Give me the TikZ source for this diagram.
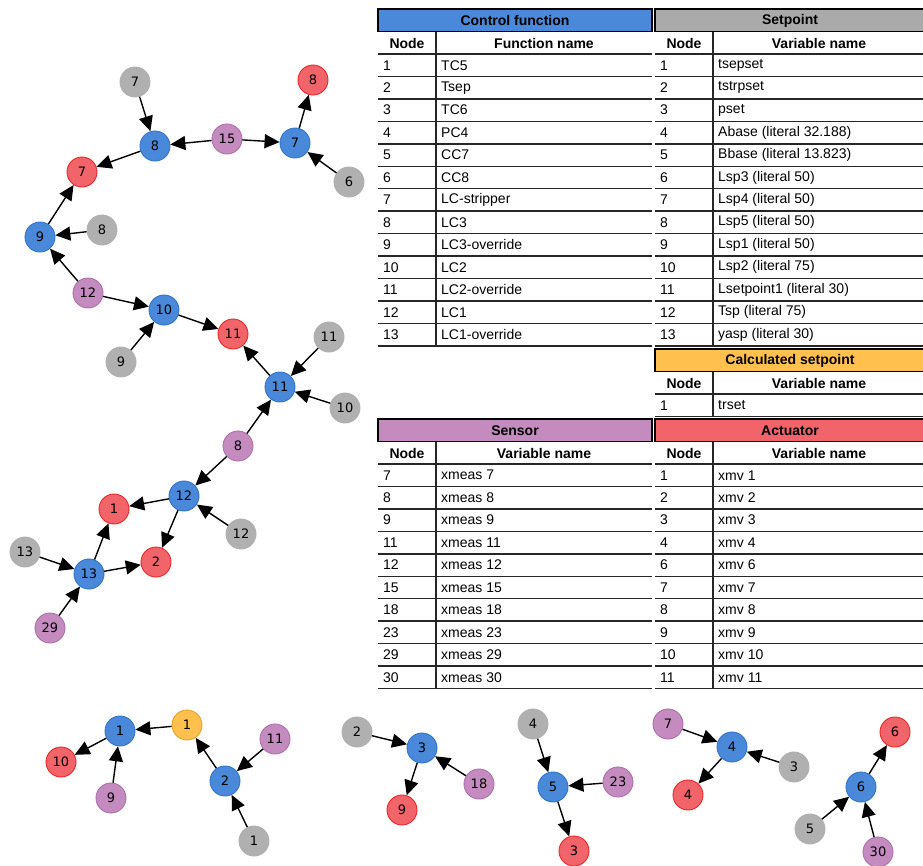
\documentclass[tikz,border=0pt]{standalone}
\usepackage{fontspec}
\setmainfont{Liberation Sans}
\newfontfamily\graphfont{DejaVu Sans}
\usetikzlibrary{positioning, arrows.meta}

\definecolor{cfblue}{RGB}{74,137,218}
\definecolor{cfline}{RGB}{50,115,200}
\definecolor{spgray}{RGB}{176,176,176}
\definecolor{snpurple}{RGB}{196,139,191}
\definecolor{snline}{RGB}{176,110,172}
\definecolor{acred}{RGB}{240,100,106}
\definecolor{acline}{RGB}{232,40,40}
\definecolor{csyellow}{RGB}{255,192,77}
\definecolor{csline}{RGB}{228,164,40}
\definecolor{sphead}{RGB}{170,170,170}

% #1 left, #2 right, #3 top, #4 colour, #5 title, #6 column name, #7 rows, #8 number of rows
\newcommand{\vartable}[8]{%
  \draw[tabhead, fill=#4] (#1,#3) rectangle (#2,#3+22.5);
  \node[tabbold] at ({(#1+#2)/2},#3+11.5) {#5};
  \node[tabbold] at (#1+29,#3+34) {Node};
  \node[tabbold] at ({(#1+58+#2)/2},#3+34) {#6};
  \draw[rowline] (#1,#3+45) -- (#2,#3+45);
  \foreach \nd/\vn [count=\i] in {#7} {
    \node[tabcell] at (#1+5,{#3+45+(\i-0.5)*22.45}) {\nd};
    \node[tabcell] at (#1+63,{#3+45+(\i-0.5)*22.45}) {\vn};
    \draw[rowline] (#1,{#3+45+\i*22.45}) -- (#2,{#3+45+\i*22.45});
  }
  \draw[rowline] (#1+58,#3+22.5) -- (#1+58,{#3+45+#8*22.45});
}

\begin{document}
\begin{tikzpicture}[x=1pt, y=-1pt, font=\fontsize{14}{16}\selectfont,
  vert/.style={circle, minimum size=30pt, inner sep=0pt, line width=0.9pt, font=\graphfont\fontsize{13}{13}\selectfont},
  cf/.style={vert, fill=cfblue, draw=cfline},
  sp/.style={vert, fill=spgray, draw=spgray},
  sn/.style={vert, fill=snpurple, draw=snline},
  ac/.style={vert, fill=acred, draw=acline},
  cs/.style={vert, fill=csyellow, draw=csline},
  link/.style={-{Triangle[length=15pt, width=14pt]}, line width=1.4pt},
  tabhead/.style={draw=black, line width=1.5pt},
  tabbold/.style={font=\fontsize{14}{16}\selectfont\bfseries},
  tabcell/.style={anchor=west, inner sep=0pt},
  rowline/.style={draw=black!85, line width=1.5pt}]
  \useasboundingbox (0,0) rectangle (923,865);

  \vartable{378}{652}{9}{cfblue}{Control function}{Function name}
    {1/TC5, 2/Tsep, 3/TC6, 4/PC4, 5/CC7, 6/CC8, 7/LC-stripper, 8/LC3, 9/LC3-override,
     10/LC2, 11/LC2-override, 12/LC1, 13/LC1-override}{13}
  \vartable{655}{925}{9}{sphead}{Setpoint}{Variable name}
    {1/tsepset, 2/tstrpset, 3/pset, 4/Abase (literal 32.188), 5/Bbase (literal 13.823),
     6/Lsp3 (literal 50), 7/Lsp4 (literal 50), 8/Lsp5 (literal 50), 9/Lsp1 (literal 50),
     10/Lsp2 (literal 75), 11/Lsetpoint1 (literal 30), 12/Tsp (literal 75), 13/yasp (literal 30)}{13}
  \vartable{655}{925}{349}{csyellow}{Calculated setpoint}{Variable name}
    {1/trset}{1}
  \vartable{378}{652}{419}{snpurple}{Sensor}{Variable name}
    {7/xmeas 7, 8/xmeas 8, 9/xmeas 9, 11/xmeas 11, 12/xmeas 12, 15/xmeas 15,
     18/xmeas 18, 23/xmeas 23, 29/xmeas 29, 30/xmeas 30}{10}
  \vartable{655}{925}{419}{acred}{Actuator}{Variable name}
    {1/xmv 1, 2/xmv 2, 3/xmv 3, 4/xmv 4, 6/xmv 6, 7/xmv 7, 8/xmv 8, 9/xmv 9,
     10/xmv 10, 11/xmv 11}{10}

  % large graph
  \node[sp] (sp7) at (135,82) {7};
  \node[cf] (cf8) at (155,146) {8};
  \node[sn] (sn15) at (227,139) {15};
  \node[cf] (cf7) at (295,143) {7};
  \node[ac] (ac8) at (313,80) {8};
  \node[sp] (sp6) at (349,182) {6};
  \node[ac] (ac7) at (82,172) {7};
  \node[cf] (cf9) at (40,237) {9};
  \node[sp] (sp8) at (102,230) {8};
  \node[sn] (sn12) at (88,293) {12};
  \node[cf] (cf10) at (164,310) {10};
  \node[ac] (ac11) at (233,334) {11};
  \node[sp] (sp9) at (121,362) {9};
  \node[sp] (sp11) at (329,337) {11};
  \node[cf] (cf11) at (280,387) {11};
  \node[sp] (sp10) at (345,408) {10};
  \node[sn] (sn8) at (238,446) {8};
  \node[cf] (cf12) at (184,496) {12};
  \node[ac] (ac1) at (114,509) {1};
  \node[sp] (sp12) at (241,534) {12};
  \node[ac] (ac2) at (156,562) {2};
  \node[sp] (sp13) at (25,552) {13};
  \node[cf] (cf13) at (89,574) {13};
  \node[sn] (sn29) at (50,628) {29};

  \path[link]
    (sp7) edge (cf8)
    (sn15) edge (cf8)
    (sn15) edge (cf7)
    (cf7) edge (ac8)
    (sp6) edge (cf7)
    (cf8) edge (ac7)
    (cf9) edge (ac7)
    (sp8) edge (cf9)
    (sn12) edge (cf9)
    (sn12) edge (cf10)
    (sp9) edge (cf10)
    (cf10) edge (ac11)
    (cf11) edge (ac11)
    (sp11) edge (cf11)
    (sp10) edge (cf11)
    (sn8) edge (cf11)
    (sn8) edge (cf12)
    (cf12) edge (ac1)
    (cf12) edge (ac2)
    (sp12) edge (cf12)
    (cf13) edge (ac1)
    (cf13) edge (ac2)
    (sp13) edge (cf13)
    (sn29) edge (cf13);

  % small graphs
  \node[cf] (cf1) at (120,731) {1};
  \node[cs] (cs1) at (187,725) {1};
  \node[ac] (ac10) at (61,762) {10};
  \node[sn] (sn9) at (111,798) {9};
  \node[cf] (cf2) at (225,781) {2};
  \node[sn] (sn11) at (275,739) {11};
  \node[sp] (sp1) at (254,841) {1};
  \node[sp] (sp2) at (357,732) {2};
  \node[cf] (cf3) at (422,748) {3};
  \node[sn] (sn18) at (479,784) {18};
  \node[ac] (ac9) at (402,810) {9};
  \node[sp] (sp4) at (533,724) {4};
  \node[cf] (cf5) at (553,787) {5};
  \node[sn] (sn23) at (618,782) {23};
  \node[ac] (ac3) at (574,851) {3};
  \node[sn] (sn7) at (668,724) {7};
  \node[cf] (cf4) at (732,747) {4};
  \node[sp] (sp3) at (794,767) {3};
  \node[ac] (ac4) at (688,795) {4};
  \node[cf] (cf6) at (861,787) {6};
  \node[ac] (ac6) at (895,732) {6};
  \node[sp] (sp5) at (810,829) {5};
  \node[sn] (sn30) at (878,852) {30};

  \path[link]
    (cs1) edge (cf1)
    (cf1) edge (ac10)
    (sn9) edge (cf1)
    (cf2) edge (cs1)
    (sn11) edge (cf2)
    (sp1) edge (cf2)
    (sp2) edge (cf3)
    (cf3) edge (ac9)
    (sn18) edge (cf3)
    (sp4) edge (cf5)
    (sn23) edge (cf5)
    (cf5) edge (ac3)
    (sn7) edge (cf4)
    (sp3) edge (cf4)
    (cf4) edge (ac4)
    (sp5) edge (cf6)
    (sn30) edge (cf6)
    (cf6) edge (ac6);
\end{tikzpicture}
\end{document}
